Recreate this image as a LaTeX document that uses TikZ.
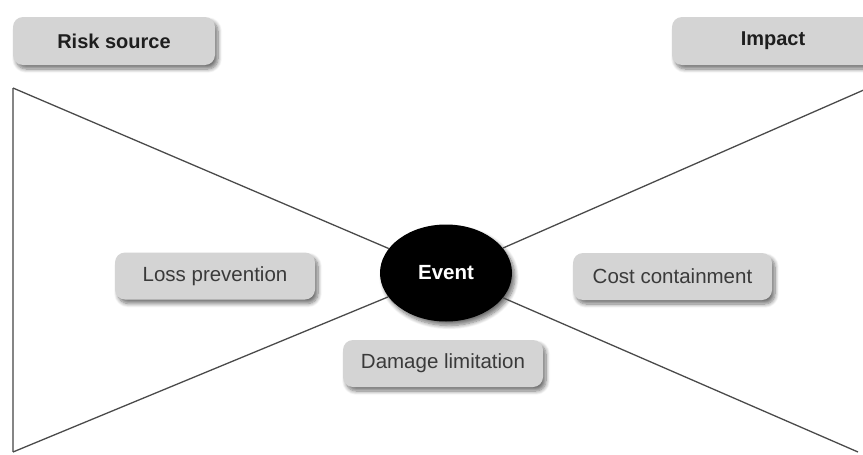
\documentclass[tikz,border=0pt]{standalone}
\usepackage{fontspec}
\setmainfont{Liberation Sans}
\usetikzlibrary{shapes.geometric,shadows.blur}
\definecolor{boxgray}{HTML}{D4D4D4}
\definecolor{labeltext}{HTML}{3A3A3A}
\definecolor{headtext}{HTML}{1E1E1E}
\definecolor{rulegray}{HTML}{858585}
\definecolor{diaggray}{HTML}{4A4A4A}
\begin{document}
\begin{tikzpicture}[x=1pt,y=-1pt,
  softshadow/.style={blur shadow={shadow xshift=3pt, shadow yshift=-4pt,
      shadow blur steps=8, shadow blur radius=4pt, shadow opacity=55}},
  labelbox/.style={fill=boxgray, rounded corners=10pt, minimum width=200pt,
      minimum height=47pt, inner sep=0pt, text=labeltext,
      font=\fontsize{20.5}{24}\selectfont, softshadow},
  headbox/.style={labelbox, text=headtext, font=\fontsize{20}{24}\selectfont\bfseries},
  eventnode/.style={ellipse, fill=black, minimum width=132pt, minimum height=97pt,
      inner sep=0pt, text=white, font=\fontsize{20.5}{24}\selectfont\bfseries, softshadow},
  frameline/.style={draw=rulegray, line width=2pt},
  diagline/.style={draw=diaggray, line width=1.3pt}]
\useasboundingbox (0,0) rectangle (863,455);
\clip (0,0) rectangle (863,455);

% corner points of the bow-tie
\coordinate (tl) at (13,88);
\coordinate (bl) at (13,452);
\coordinate (tr) at (866,89);
\coordinate (br) at (858,452);

% central event
\node[eventnode] (ev) at (446,273) {Event};

% bow-tie lines
\draw[frameline] (tl) -- (bl);
\draw[diagline] (tl) -- (ev);
\draw[diagline] (bl) -- (ev);
\draw[diagline] (tr) -- (ev);
\draw[diagline] (br) -- (ev);

% headings
\node[headbox, minimum width=202pt, minimum height=48pt] (risk) at (114,41) {Risk source};
\node[headbox, minimum width=202pt, minimum height=48pt] (impact) at (773,41) {Impact};

% measures
\node[labelbox] (loss) at (215,276) {Loss prevention};
\node[labelbox, minimum width=199pt] (cost) at (672.5,276.5) {Cost containment};
\node[labelbox] (damage) at (443,363.5) {Damage limitation};
\end{tikzpicture}
\end{document}
